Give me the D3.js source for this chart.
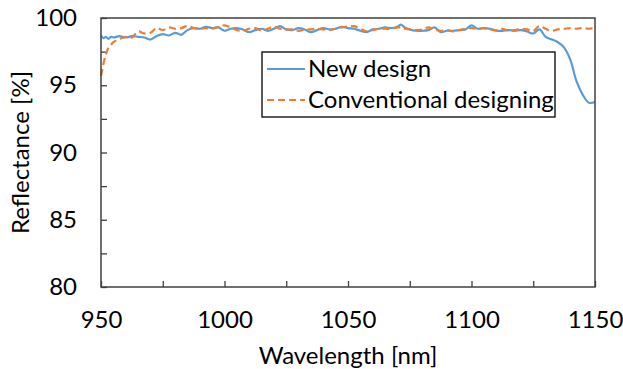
<!DOCTYPE html>
<html>
<head>
<meta charset="utf-8">
<script src="https://cdn.jsdelivr.net/npm/d3@7"></script>
<style>
  body { margin: 0; background: #fff; }
  text { font-family: Lato, "Open Sans", sans-serif; fill: #000; }
</style>
</head>
<body>
<div id="chart"></div>
<script>
// reflectance spectra, new design vs conventional designing
const wavelengths = [950, 951, 952, 953, 954, 955,
  957.5, 960, 962.5, 965, 967.5, 970, 972.5, 975, 977.5, 980, 982.5, 985, 987.5, 990,
  992.5, 995, 997.5, 1000, 1002.5, 1005, 1007.5, 1010, 1012.5, 1015, 1017.5, 1020, 1022.5,
  1025, 1027.5, 1030, 1032.5, 1035, 1037.5, 1040, 1042.5, 1045, 1047.5, 1050, 1052.5, 1055,
  1057.5, 1060, 1062.5, 1065, 1067.5, 1070, 1071.5, 1073,
  1075, 1077.5, 1080, 1082.5, 1085, 1087.5, 1090, 1092.5, 1095, 1097.5, 1100, 1102.5, 1105,
  1107.5, 1110, 1112.5, 1115, 1117.5, 1120, 1122.5, 1125, 1127.5, 1130, 1132.5, 1135, 1137.5,
  1140, 1142.5, 1145, 1147.5, 1150];

const newDesign = [98.7, 98.5, 98.6, 98.45, 98.6, 98.55,
  98.65, 98.55, 98.65, 98.6, 98.55, 98.4, 98.65, 98.8, 98.7, 98.9, 98.75, 99.1, 99.25, 99.2,
  99.35, 99.25, 99.3, 99.05, 99.2, 99.25, 99.15, 98.95, 99.1, 99.2, 99.05, 99.2, 99.4,
  99.15, 99.1, 99.25, 99.15, 98.95, 99.1, 99.25, 99.15, 99.2, 99.35, 99.25, 99.2, 99.05,
  98.95, 99.15, 99.2, 99.3, 99.25, 99.35, 99.5, 99.3,
  99.15, 99.05, 99.05, 99.1, 99.3, 98.95, 99.05, 99.05, 99.1, 99.15, 99.45, 99.2, 99.25,
  99.2, 99.05, 99.05, 99.1, 99.05, 99.1, 99.0, 98.85, 99.15, 98.6, 98.4, 98.2, 97.8,
  96.9, 95.3, 94.3, 93.7, 93.75];

const conventional = [95.7, 96.6, 97.3, 97.8, 98.0, 98.2,
  98.45, 98.6, 98.55, 99.0, 98.85, 98.9, 99.25, 99.1, 99.3, 99.2, 99.25, 99.4, 99.25, 99.2,
  99.25, 99.2, 99.35, 99.45, 99.3, 99.1, 99.05, 99.2, 99.25, 99.05, 99.2, 99.35, 99.2,
  99.15, 99.15, 99.05, 99.15, 99.15, 99.2, 99.15, 99.1, 99.2, 99.3, 99.35, 99.4, 99.2,
  99.0, 99.1, 99.2, 99.2, 99.2, 99.3, 99.3, 99.2,
  99.15, 99.1, 99.15, 99.3, 99.15, 99.05, 99.1, 99.0, 99.1, 99.2, 99.25, 99.2, 99.25,
  99.15, 99.1, 99.2, 99.05, 99.1, 99.2, 99.15, 99.05, 99.4, 99.2, 99.05, 99.15, 99.2,
  99.25, 99.2, 99.25, 99.2, 99.3];

const xTicks = [950, 1000, 1050, 1100, 1150];
const yTicks = [80, 85, 90, 95, 100];

const series = [
  { name: "New design", values: newDesign, color: "#5b9bd5", dash: null },
  { name: "Conventional designing", values: conventional, color: "#ed7d31", dash: "7,4" }
];

const W = 623, H = 369;
const margin = { top: 18, right: 28, bottom: 82, left: 101 };
const width = W - margin.left - margin.right;
const height = H - margin.top - margin.bottom;
const fontSize = "24px";

const svg = d3.select("#chart").append("svg")
  .attr("width", W)
  .attr("height", H);

const g = svg.append("g")
  .attr("transform", "translate(" + margin.left + "," + margin.top + ")");

const x = d3.scaleLinear().domain([950, 1150]).range([0, width]);
const y = d3.scaleLinear().domain([80, 100]).range([height, 0]);

const axisColor = "#404040";

// minor ticks (inward)
g.append("g")
  .attr("transform", "translate(0," + height + ")")
  .call(d3.axisTop(x).tickValues(d3.range(950, 1151, 25)).tickSize(6).tickFormat(""))
  .call(a => a.select(".domain").remove())
  .call(a => a.selectAll("line").attr("stroke", axisColor).attr("stroke-width", 1.3));

g.append("g")
  .call(d3.axisRight(y).tickValues(d3.range(80, 100.1, 2.5)).tickSize(6).tickFormat(""))
  .call(a => a.select(".domain").remove())
  .call(a => a.selectAll("line").attr("stroke", axisColor).attr("stroke-width", 1.3));

// tick labels
g.append("g")
  .attr("transform", "translate(0," + height + ")")
  .call(d3.axisBottom(x).tickValues(xTicks).tickFormat(d3.format("d")).tickSize(0).tickPadding(24))
  .call(a => a.select(".domain").remove())
  .call(a => a.selectAll("text").style("font-size", fontSize).attr("fill", "#000"));

g.append("g")
  .call(d3.axisLeft(y).tickValues(yTicks).tickFormat(d3.format("d")).tickSize(0).tickPadding(24))
  .call(a => a.select(".domain").remove())
  .call(a => a.selectAll("text").style("font-size", fontSize).attr("fill", "#000"));

// lines
const line = d3.line()
  .x((d, i) => x(wavelengths[i]))
  .y(d => y(d))
  .curve(d3.curveCatmullRom);

g.selectAll(".series")
  .data(series)
  .enter().append("path")
  .attr("class", "series")
  .attr("fill", "none")
  .attr("stroke", d => d.color)
  .attr("stroke-width", 2.2)
  .attr("stroke-dasharray", d => d.dash)
  .attr("d", d => line(d.values));

// frame
g.append("rect")
  .attr("width", width)
  .attr("height", height)
  .attr("fill", "none")
  .attr("stroke", axisColor)
  .attr("stroke-width", 1.5);

// axis titles
svg.append("text")
  .attr("x", margin.left + width / 2)
  .attr("y", 364)
  .attr("text-anchor", "middle")
  .style("font-size", fontSize)
  .text("Wavelength [nm]");

svg.append("text")
  .attr("transform", "translate(29," + (margin.top + height / 2) + ") rotate(-90)")
  .attr("text-anchor", "middle")
  .style("font-size", fontSize)
  .text("Reflectance [%]");

// legend
const legend = svg.append("g").attr("transform", "translate(262,52)");
legend.append("rect")
  .attr("width", 293)
  .attr("height", 65)
  .attr("fill", "#fff")
  .attr("stroke", "#000")
  .attr("stroke-width", 1.3);

const item = legend.selectAll(".item")
  .data(series)
  .enter().append("g")
  .attr("transform", (d, i) => "translate(0," + (17 + i * 31) + ")");

item.append("line")
  .attr("x1", 5).attr("x2", 43)
  .attr("stroke", d => d.color)
  .attr("stroke-width", 2.2)
  .attr("stroke-dasharray", d => d.dash);

item.append("text")
  .attr("x", 46)
  .attr("dy", "0.35em")
  .style("font-size", fontSize)
  .text(d => d.name);
</script>
</body>
</html>
